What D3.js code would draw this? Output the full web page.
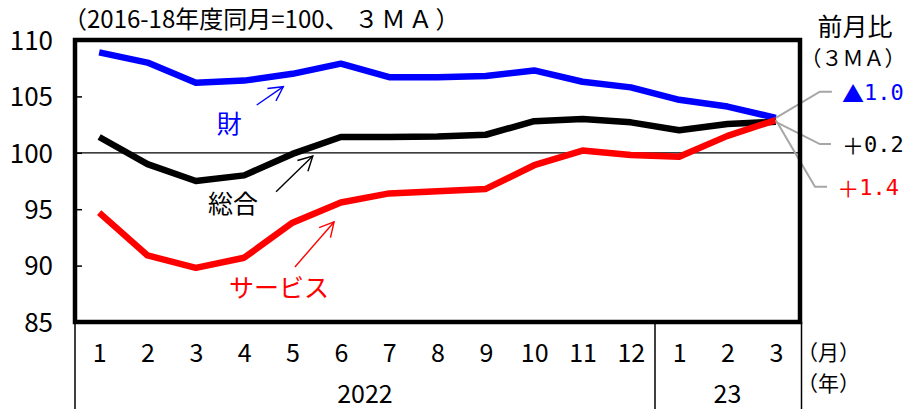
<!DOCTYPE html>
<html>
<head>
<meta charset="utf-8">
<script src="https://cdn.jsdelivr.net/npm/d3@7"></script>
<style>
  html, body { margin: 0; padding: 0; background: #fff; }
  svg { display: block; }
</style>
</head>
<body>
<svg id="chart" width="907" height="409"></svg>
<script>
// Monthly index, 3-month moving average (2016-18 same month = 100)
const monthLabels = ["1","2","3","4","5","6","7","8","9","10","11","12","1","2","3"];
const yearLabels = ["2022", "23"];
const yearSpans = [[1, 12], [13, 15]];
const goods    = [108.9, 108.0, 106.2, 106.4, 107.0, 107.9, 106.7, 106.7, 106.8, 107.3, 106.3, 105.8, 104.7, 104.1, 103.1];
const total    = [101.4, 99.0, 97.5, 98.0, 99.9, 101.4, 101.4, 101.45, 101.6, 102.8, 103.0, 102.7, 102.0, 102.55, 102.75];
const services = [94.7, 90.9, 89.8, 90.7, 93.8, 95.6, 96.4, 96.6, 96.8, 98.9, 100.2, 99.8, 99.65, 101.5, 102.9];
const yTicks = [85, 90, 95, 100, 105, 110];
const seriesNames = ["財", "総合", "サービス"];
const seriesColors = ["#0000ff", "#000000", "#ff0000"];
// month-on-month change of the latest point
const momChange = [-1.0, 0.2, 1.4];

const JP = "'Noto Sans CJK JP', sans-serif";
const NUM = "'Liberation Sans Narrow', 'Noto Sans CJK JP', sans-serif";

const svg = d3.select("#chart");
const plotL = 75, plotR = 800, plotT = 40, plotB = 322;

const x = d3.scaleLinear().domain([0.5, 15.5]).range([plotL, plotR]);
const y = d3.scaleLinear().domain([85, 110]).range([plotB, plotT]);

// reference line at 100
svg.append("line")
  .attr("x1", plotL).attr("x2", plotR)
  .attr("y1", y(100)).attr("y2", y(100))
  .attr("stroke", "#000").attr("stroke-width", 1.3);

// y axis with inward ticks
const yAxis = svg.append("g")
  .attr("transform", `translate(${plotL},0)`)
  .call(d3.axisLeft(y).tickValues(yTicks).tickSize(-7).tickPadding(22).tickFormat(d3.format("d")));
yAxis.select(".domain").remove();
yAxis.selectAll(".tick line").attr("stroke", "#000").attr("stroke-width", 1.5);
yAxis.selectAll("text").attr("font-family", NUM).attr("font-size", 26).attr("fill", "#000").attr("dy", "0.36em");

// x axis: month labels
const xAxis = svg.append("g")
  .attr("transform", `translate(0,${plotB})`)
  .call(d3.axisBottom(x).tickValues(d3.range(1, 16)).tickSize(0).tickPadding(22)
    .tickFormat(i => monthLabels[i - 1]));
xAxis.select(".domain").remove();
xAxis.selectAll("text").attr("font-family", NUM).attr("font-size", 25).attr("fill", "#000");

// year separators
[0.5, 12.5, 15.5].forEach(v => {
  const off = v === 15.5 ? 1.5 : 0;
  svg.append("line")
    .attr("x1", x(v) + off).attr("x2", x(v) + off)
    .attr("y1", plotB).attr("y2", 409)
    .attr("stroke", "#000").attr("stroke-width", 1.5);
});
yearLabels.forEach((t, i) => {
  svg.append("text")
    .attr("x", x((yearSpans[i][0] + yearSpans[i][1]) / 2))
    .attr("y", 403)
    .attr("text-anchor", "middle")
    .attr("font-family", NUM).attr("font-size", 25)
    .text(t);
});
svg.append("text").attr("x", 797).attr("y", 351).attr("dominant-baseline", "central")
  .attr("font-family", JP).attr("font-size", 21).text("（月）");
svg.append("text").attr("x", 797).attr("y", 382).attr("dominant-baseline", "central")
  .attr("font-family", JP).attr("font-size", 21).text("（年）");

// series lines
const line = d3.line().x((d, i) => x(i + 1)).y(d => y(d));
[goods, total, services].forEach((s, k) => {
  svg.append("path")
    .datum(s)
    .attr("d", line)
    .attr("fill", "none")
    .attr("stroke", seriesColors[k])
    .attr("stroke-width", 6.5)
    .attr("stroke-linejoin", "round");
});

// leader lines from the last point to the change labels
const last = 15;
const leaders = [
  { elbow: [15.91, 105.42], end: 16.16 },
  { elbow: [15.91, 100.77], end: 16.14 },
  { elbow: [15.81, 96.98], end: 16.06 }
];
const lastVals = [goods[last - 1], total[last - 1], services[last - 1]];
leaders.forEach((l, k) => {
  svg.append("polyline")
    .attr("points", [
      [x(last), y(lastVals[k])],
      [x(l.elbow[0]), y(l.elbow[1])],
      [x(l.end), y(l.elbow[1])]
    ].map(p => p.join(",")).join(" "))
    .attr("fill", "none")
    .attr("stroke", "#a6a6a6")
    .attr("stroke-width", 2);
});

// plot frame
svg.append("rect")
  .attr("x", plotL).attr("y", plotT)
  .attr("width", plotR - plotL).attr("height", plotB - plotT)
  .attr("fill", "none").attr("stroke", "#000").attr("stroke-width", 4.5);

// series name labels with arrows
const nameLabels = [
  { pos: [3.69, 102.73], from: [4.26, 104.24], to: [4.81, 105.86] },
  { pos: [3.77, 95.62], from: [4.66, 96.54], to: [5.42, 99.71] },
  { pos: [4.72, 88.16], from: [5.05, 89.88], to: [5.86, 93.87] }
];
nameLabels.forEach((a, k) => {
  svg.append("text")
    .attr("x", x(a.pos[0])).attr("y", y(a.pos[1]))
    .attr("text-anchor", "middle").attr("dominant-baseline", "central")
    .attr("font-family", JP).attr("font-size", 25)
    .attr("fill", seriesColors[k])
    .text(seriesNames[k]);
  const x0 = x(a.from[0]), y0 = y(a.from[1]), x1 = x(a.to[0]), y1 = y(a.to[1]);
  const ang = Math.atan2(y0 - y1, x0 - x1);
  const hl = 16, ha = 28 * Math.PI / 180;
  const h1 = [x1 + hl * Math.cos(ang + ha), y1 + hl * Math.sin(ang + ha)];
  const h2 = [x1 + hl * Math.cos(ang - ha), y1 + hl * Math.sin(ang - ha)];
  const g = svg.append("g").attr("stroke", seriesColors[k]).attr("stroke-width", 1.4).attr("fill", "none");
  g.append("line").attr("x1", x0).attr("y1", y0).attr("x2", x1).attr("y2", y1);
  g.append("polyline").attr("points", [h1, [x1, y1], h2].map(p => p.join(",")).join(" "));
});

// change labels
const fmtChange = v => ({ sign: v < 0 ? "▲" : "＋", num: Math.abs(v).toFixed(1) });
const changeX = [16.37, 16.37, 16.27];
momChange.forEach((v, k) => {
  const f = fmtChange(v);
  const t = svg.append("text")
    .attr("x", x(changeX[k]))
    .attr("y", y(leaders[k].elbow[1]))
    .attr("dominant-baseline", "central")
    .attr("fill", seriesColors[k]);
  t.append("tspan").attr("font-family", JP).attr("font-size", 22).text(f.sign);
  t.append("tspan").attr("font-family", "'DejaVu Sans Mono', monospace").attr("font-size", 22).text(f.num);
});

// headings
const title = svg.append("text")
  .attr("x", 63).attr("y", 28)
  .attr("font-family", JP).attr("font-size", 24);
title.append("tspan").text("（2016-18年度同月=100、");
title.append("tspan").attr("dx", 6).attr("letter-spacing", 3).text("３ＭＡ");
title.append("tspan").text("）");
svg.append("text")
  .attr("x", 855).attr("y", 25)
  .attr("text-anchor", "middle").attr("dominant-baseline", "central")
  .attr("font-family", JP).attr("font-size", 25)
  .text("前月比");
svg.append("text")
  .attr("x", 853).attr("y", 57)
  .attr("text-anchor", "middle").attr("dominant-baseline", "central")
  .attr("font-family", JP).attr("font-size", 21)
  .text("（３ＭＡ）");
</script>
</body>
</html>
